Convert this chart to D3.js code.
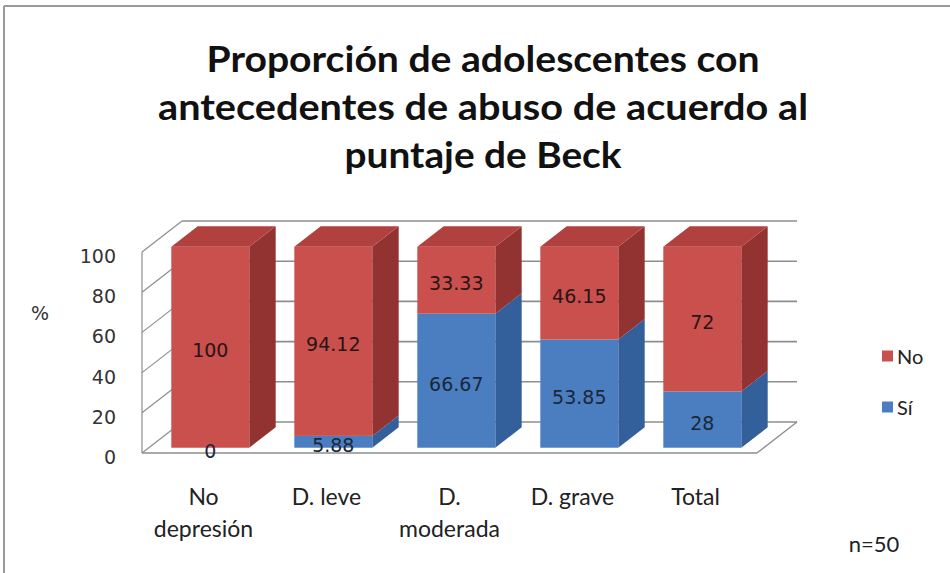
<!DOCTYPE html>
<html>
<head>
<meta charset="utf-8">
<script src="https://cdn.jsdelivr.net/npm/d3@7"></script>
<style>
  html, body { margin: 0; padding: 0; background: #ffffff; }
  svg { display: block; }
</style>
</head>
<body>
<svg id="chart" width="950" height="573"></svg>
<script>
// Categories (Beck score groups) and stacked percentages
const categories = ["No depresión", "D. leve", "D. moderada", "D. grave", "Total"];
const categoryLines = [["No", "depresión"], ["D. leve"], ["D.", "moderada"], ["D. grave"], ["Total"]];
const siValues = [0, 5.88, 66.67, 53.85, 28];
const noValues = [100, 94.12, 33.33, 46.15, 72];
const yTicks = [0, 20, 40, 60, 80, 100];
const seriesKeys = ["Sí", "No"];
const titleLines = ["Proporción de adolescentes con", "antecedentes de abuso de acuerdo al", "puntaje de Beck"];

const svg = d3.select("#chart");

// Frame
svg.append("line").attr("x1", 4).attr("y1", 6).attr("x2", 950).attr("y2", 6)
  .attr("stroke", "#9a9a9a").attr("stroke-width", 2);
svg.append("line").attr("x1", 4).attr("y1", 6).attr("x2", 4).attr("y2", 573)
  .attr("stroke", "#9a9a9a").attr("stroke-width", 2);

// Title
const titleFont = "Lato, 'Open Sans', sans-serif";
const titleSpec = [
  { y: 72, w: 553 },
  { y: 120, w: 650 },
  { y: 168, w: 277 }
];
titleLines.forEach((t, i) => {
  svg.append("text")
    .attr("x", 483).attr("y", titleSpec[i].y)
    .attr("text-anchor", "middle")
    .attr("font-family", titleFont).attr("font-weight", "bold")
    .attr("font-size", 36).attr("fill", "#111")
    .attr("textLength", titleSpec[i].w).attr("lengthAdjust", "spacingAndGlyphs")
    .text(t);
});

// Scales on the front plane of the 3-D box
const x = d3.scaleBand().domain(categories).range([142, 757])
  .paddingInner(0.366).paddingOuter(0.183);
const y = d3.scaleLinear().domain([0, 100]).range([453, 252]);

// Depth vector of the box and the bar slab inside it
const DX = 40, DY = -31;
const F0 = 0.17, F1 = 0.83;
const bdx = DX * (F1 - F0), bdy = DY * (F1 - F0);

const gridColor = "#8e8e8e";
const [x0r, x1r] = x.range();

// Back wall gridlines
svg.append("g").selectAll("line").data(yTicks).join("line")
  .attr("x1", x0r + DX).attr("x2", x1r + DX)
  .attr("y1", d => y(d) + DY).attr("y2", d => y(d) + DY)
  .attr("stroke", gridColor).attr("stroke-width", 1.6);

// Left wall lines
svg.append("g").selectAll("line").data(yTicks).join("line")
  .attr("x1", x0r).attr("x2", x0r + DX)
  .attr("y1", d => y(d)).attr("y2", d => y(d) + DY)
  .attr("stroke", gridColor).attr("stroke-width", 1.2);
svg.append("line").attr("x1", x0r).attr("x2", x0r)
  .attr("y1", y(0)).attr("y2", y(100))
  .attr("stroke", gridColor).attr("stroke-width", 1.2);

// Floor edges
svg.append("line").attr("x1", x0r).attr("x2", x1r)
  .attr("y1", y(0)).attr("y2", y(0))
  .attr("stroke", gridColor).attr("stroke-width", 1.4);
svg.append("line").attr("x1", x1r).attr("x2", x1r + DX)
  .attr("y1", y(0)).attr("y2", y(0) + DY)
  .attr("stroke", gridColor).attr("stroke-width", 1.4);

// Y axis tick labels
svg.append("g").selectAll("text").data(yTicks).join("text")
  .attr("x", 116).attr("y", d => y(d) + 4)
  .attr("text-anchor", "end").attr("dominant-baseline", "central")
  .attr("font-family", "'DejaVu Sans', Verdana, sans-serif").attr("font-size", 19)
  .attr("fill", "#333")
  .text(d => d);

svg.append("text").attr("x", 40).attr("y", 313)
  .attr("text-anchor", "middle").attr("dominant-baseline", "central")
  .attr("font-family", "'DejaVu Sans', Verdana, sans-serif").attr("font-size", 19)
  .attr("fill", "#333").text("%");

// Stacked data
const rows = categories.map((c, i) => ({ cat: c, "Sí": siValues[i], "No": noValues[i] }));
const stacked = d3.stack().keys(seriesKeys)(rows);

const colors = {
  "Sí": { front: "#4a7ec1", side: "#33609a", top: "#3f6fad", label: "#1b2738" },
  "No": { front: "#c9504c", side: "#933331", top: "#b1413e", label: "#2a1414" }
};

const barW = x.bandwidth();
const bars = svg.append("g");
const labels = [];

rows.forEach((r, i) => {
  const bx = x(r.cat) + DX * F0;
  const yo = DY * F0;
  const g = bars.append("g");
  seriesKeys.forEach((k, si) => {
    const seg = stacked[si][i];
    const v0 = seg[0], v1 = seg[1];
    const yTop = y(v1) + yo, yBot = y(v0) + yo;
    const col = colors[k];
    if (v1 > v0) {
      // right side face
      g.append("polygon")
        .attr("points", [[bx + barW, yBot], [bx + barW + bdx, yBot + bdy],
                         [bx + barW + bdx, yTop + bdy], [bx + barW, yTop]].join(" "))
        .attr("fill", col.side);
      // front face
      g.append("rect").attr("x", bx).attr("y", yTop)
        .attr("width", barW).attr("height", yBot - yTop)
        .attr("fill", col.front);
      // top face of the stack
      if (si === seriesKeys.length - 1) {
        g.append("polygon")
          .attr("points", [[bx, yTop], [bx + bdx, yTop + bdy],
                           [bx + barW + bdx, yTop + bdy], [bx + barW, yTop]].join(" "))
          .attr("fill", col.top);
      }
    }
    labels.push({ x: bx + barW / 2, y: (yTop + yBot) / 2 + 3, text: String(r[k]), color: col.label });
  });
});

// Data labels
svg.append("g").selectAll("text").data(labels).join("text")
  .attr("x", d => d.x).attr("y", d => d.y)
  .attr("text-anchor", "middle").attr("dominant-baseline", "central")
  .attr("font-family", "'DejaVu Sans', Verdana, sans-serif").attr("font-size", 19)
  .attr("fill", d => d.color)
  .text(d => d.text);

// Category labels
const catFont = "Lato, 'Open Sans', sans-serif";
categories.forEach((c, i) => {
  const cx = x(c) + barW / 2;
  categoryLines[i].forEach((line, j) => {
    svg.append("text")
      .attr("x", cx).attr("y", 505 + j * 32)
      .attr("text-anchor", "middle")
      .attr("font-family", catFont).attr("font-size", 23)
      .attr("fill", "#222")
      .text(line);
  });
});

// Legend
const legendItems = [{ key: "No", y: 356 }, { key: "Sí", y: 407 }];
const lg = svg.append("g");
legendItems.forEach(d => {
  lg.append("rect").attr("x", 882).attr("y", d.y - 5.5)
    .attr("width", 11).attr("height", 11).attr("fill", colors[d.key].front);
  lg.append("text").attr("x", 897).attr("y", d.y)
    .attr("dominant-baseline", "central")
    .attr("font-family", catFont).attr("font-size", 20).attr("fill", "#222")
    .text(d.key);
});

// Sample size note
svg.append("text").attr("x", 874).attr("y", 552)
  .attr("text-anchor", "middle")
  .attr("font-family", catFont).attr("font-size", 22).attr("fill", "#222")
  .text("n=50");
</script>
</body>
</html>
